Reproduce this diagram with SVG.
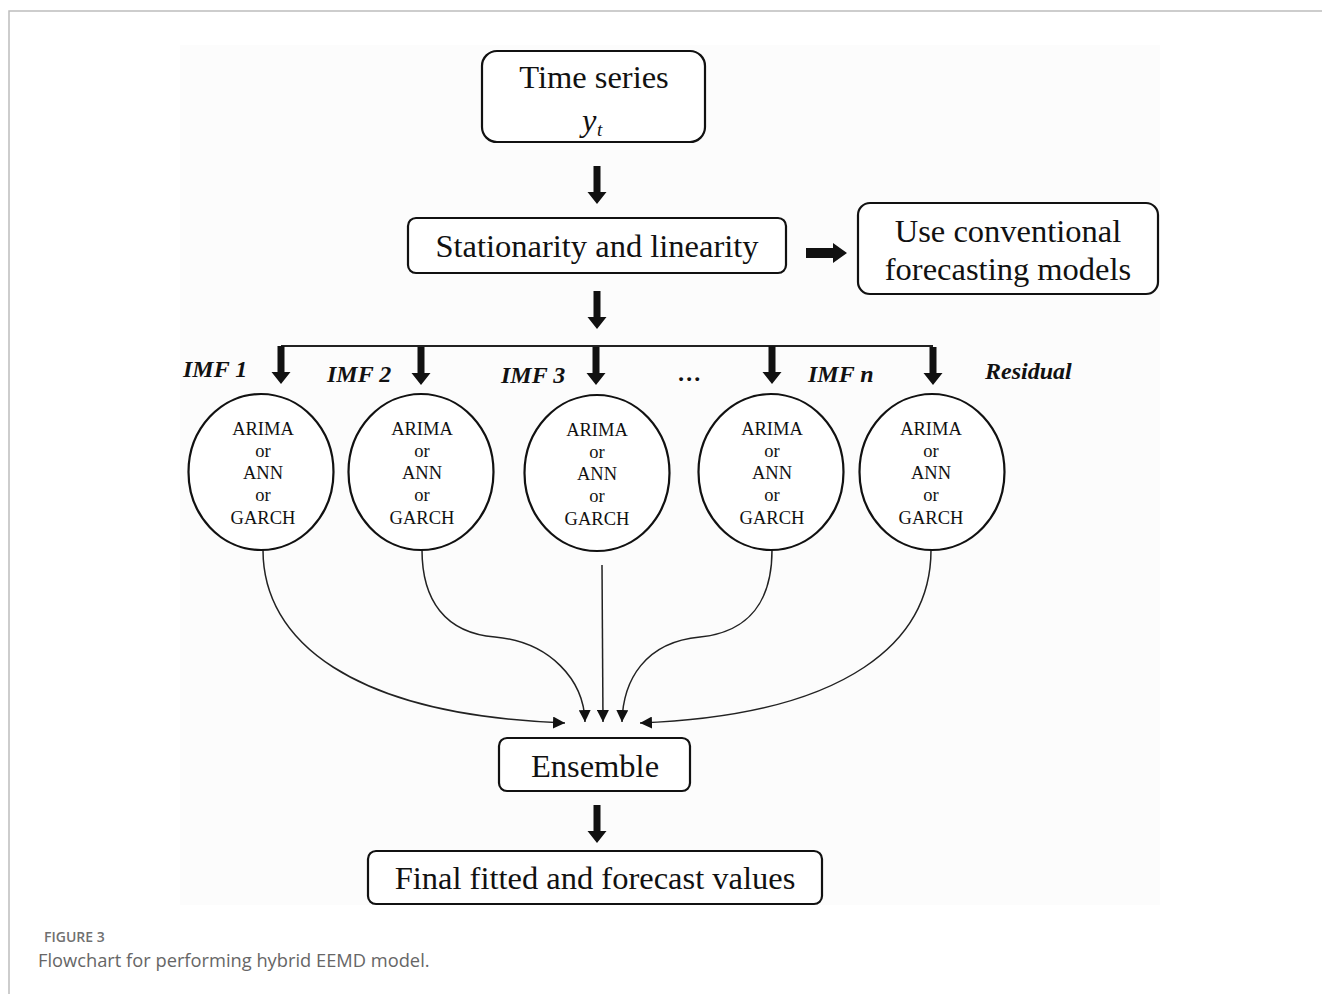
<svg xmlns="http://www.w3.org/2000/svg" width="1322" height="994" viewBox="0 0 1322 994">
<style>
.box{fill:#fff;stroke:#111;stroke-width:2.2}
.circ{fill:#fff;stroke:#111;stroke-width:2.2}
.t{font-family:"Liberation Serif","Times New Roman",serif;font-size:32.5px;fill:#111;text-anchor:middle}
.c{font-family:"Liberation Serif","Times New Roman",serif;font-size:18.5px;fill:#111;text-anchor:middle}
.lab{font-family:"Liberation Serif","Times New Roman",serif;font-size:24px;font-weight:bold;font-style:italic;fill:#111}
.conn{fill:none;stroke:#222;stroke-width:1.5}
.thick{fill:#111}
.cap1{font-family:"Open Sans","Noto Sans",sans-serif;font-size:14px;font-weight:600;fill:#707070}
.cap2{font-family:"Open Sans","Noto Sans",sans-serif;font-size:18.3px;fill:#666}
</style>
<defs>
<marker id="ah" viewBox="0 0 12 12" refX="12" refY="6" markerWidth="12" markerHeight="12" markerUnits="userSpaceOnUse" orient="auto">
<path d="M0,0 L12,6 L0,12 Z" fill="#111"/>
</marker>
<path id="down" d="M-3.5,0 H3.5 V26 H9.5 L0,38 L-9.5,26 H-3.5 Z"/>
</defs>
<rect width="1322" height="994" fill="#fff"/>
<rect x="180" y="45" width="980" height="860" fill="#fcfcfc"/>
<g id="frame" fill="none" stroke="#bdbdbd" stroke-width="1.5">
<path d="M9,994 V11 H1322"/>
</g>

<g id="connectors">
<use href="#down" x="597" y="166" class="thick"/>
<use href="#down" x="597" y="291" class="thick"/>
<path class="thick" d="M806,248 H833 V243 L847,253 L833,263 V258 H806 Z"/>
<line x1="281" y1="346" x2="933" y2="346" stroke="#222" stroke-width="2"/>
<use href="#down" x="281" y="346" class="thick"/>
<use href="#down" x="421" y="347" class="thick"/>
<use href="#down" x="596" y="347" class="thick"/>
<use href="#down" x="772" y="346" class="thick"/>
<use href="#down" x="933" y="347" class="thick"/>
<path class="conn" marker-end="url(#ah)" d="M263,550 C263,640 350,715 565,723"/>
<path class="conn" marker-end="url(#ah)" d="M422,550 C422,600 445,633 495,637 C550,642 584,680 585,722"/>
<path class="conn" marker-end="url(#ah)" d="M602,565 L603,722"/>
<path class="conn" marker-end="url(#ah)" d="M772,550 C772,600 750,632 700,637 C645,642 623,680 622,722"/>
<path class="conn" marker-end="url(#ah)" d="M931,550 C931,640 850,715 640,723"/>
<use href="#down" x="597" y="805" class="thick"/>
</g>

<g id="time-series">
<rect class="box" x="482" y="51" width="223" height="91" rx="15"/>
<text class="t" x="594" y="88">Time series</text>
<text x="582" y="131" font-family="Liberation Serif,Times New Roman,serif" font-size="32.5" font-style="italic" fill="#111">y</text>
<text x="597" y="136" font-family="Liberation Serif,Times New Roman,serif" font-size="19" font-style="italic" fill="#111">t</text>
</g>

<g id="stationarity">
<rect class="box" x="408" y="218" width="378" height="55" rx="8"/>
<text class="t" x="597" y="257">Stationarity and linearity</text>
</g>

<g id="conventional">
<rect class="box" x="858" y="203" width="300" height="91" rx="12"/>
<text class="t" x="1008" y="242">Use conventional</text>
<text class="t" x="1008" y="280">forecasting models</text>
</g>

<g id="labels">
<text class="lab" x="183" y="377">IMF 1</text>
<text class="lab" x="327" y="382">IMF 2</text>
<text class="lab" x="501" y="383">IMF 3</text>
<text class="lab" x="678" y="381">…</text>
<text class="lab" x="808" y="382">IMF n</text>
<text class="lab" x="985" y="379">Residual</text>
</g>

<g id="model-1">
<ellipse class="circ" cx="261" cy="472" rx="72.5" ry="78"/>
<text class="c" x="263" y="435">ARIMA</text><text class="c" x="263" y="457">or</text><text class="c" x="263" y="479">ANN</text><text class="c" x="263" y="501">or</text><text class="c" x="263" y="524">GARCH</text>
</g>
<g id="model-2">
<ellipse class="circ" cx="421" cy="472" rx="72.5" ry="78"/>
<text class="c" x="422" y="435">ARIMA</text><text class="c" x="422" y="457">or</text><text class="c" x="422" y="479">ANN</text><text class="c" x="422" y="501">or</text><text class="c" x="422" y="524">GARCH</text>
</g>
<g id="model-3">
<ellipse class="circ" cx="597" cy="473" rx="72.5" ry="78"/>
<text class="c" x="597" y="436">ARIMA</text><text class="c" x="597" y="458">or</text><text class="c" x="597" y="480">ANN</text><text class="c" x="597" y="502">or</text><text class="c" x="597" y="525">GARCH</text>
</g>
<g id="model-4">
<ellipse class="circ" cx="771" cy="472" rx="72.5" ry="78"/>
<text class="c" x="772" y="435">ARIMA</text><text class="c" x="772" y="457">or</text><text class="c" x="772" y="479">ANN</text><text class="c" x="772" y="501">or</text><text class="c" x="772" y="524">GARCH</text>
</g>
<g id="model-5">
<ellipse class="circ" cx="932" cy="472" rx="72.5" ry="78"/>
<text class="c" x="931" y="435">ARIMA</text><text class="c" x="931" y="457">or</text><text class="c" x="931" y="479">ANN</text><text class="c" x="931" y="501">or</text><text class="c" x="931" y="524">GARCH</text>
</g>

<g id="ensemble">
<rect class="box" x="499" y="738" width="191" height="53" rx="8"/>
<text class="t" x="595" y="777">Ensemble</text>
</g>

<g id="final">
<rect class="box" x="368" y="851" width="454" height="53" rx="8"/>
<text class="t" x="595" y="889">Final fitted and forecast values</text>
</g>

<g id="caption">
<text class="cap1" x="44" y="942">FIGURE 3</text>
<text class="cap2" x="38" y="967">Flowchart for performing hybrid EEMD model.</text>
</g>
</svg>
